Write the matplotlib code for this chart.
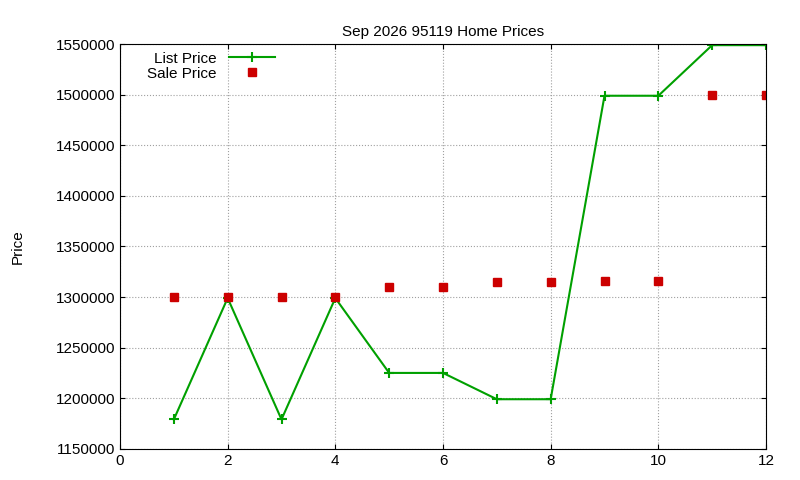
import matplotlib
matplotlib.use("Agg")
import matplotlib.pyplot as plt
from matplotlib.ticker import FuncFormatter

plt.rcParams["font.family"] = ["Liberation Sans", "DejaVu Sans"]

months = [1, 2, 3, 4, 5, 6, 7, 8, 9, 10, 11, 12]
list_price = [1179000, 1299000, 1179000, 1299000, 1225000, 1225000,
              1199000, 1199000, 1499000, 1499000, 1549000, 1549000]
sale_price = [1300000, 1300000, 1300000, 1300000, 1310000, 1310000,
              1315000, 1315000, 1316000, 1316000, 1500000, 1500000]

fig = plt.figure(figsize=(8, 4.8), dpi=100)
ax = fig.add_axes([0.15, 0.065, 0.8075, 0.843])

ax.plot(months, list_price, color="#00a000", lw=1.5, marker="+", ms=7, mew=1.5, label="List Price")
ax.plot(months, sale_price, ls="none", marker="s", ms=6, color="#cc0000", label="Sale Price")

ax.set_xlim(0, 12)
ax.set_ylim(1150000, 1550000)
ax.set_xticks(range(0, 13, 2))
ax.set_yticks(range(1150000, 1550001, 50000))
ax.yaxis.set_major_formatter(FuncFormatter(lambda v, p: f"{int(v)}"))
ax.grid(True, color="#a0a0a0", ls=":", lw=0.8)
ax.tick_params(direction="in", labelsize=11, top=True, right=True)
ax.set_ylabel("Price", fontsize=11, labelpad=22)
ax.set_title("Sep 2026 95119 Home Prices", fontsize=11)
ax.legend(loc="upper left", bbox_to_anchor=(0.03, 1.0), frameon=False, markerfirst=False,
          fontsize=11, handlelength=3, borderaxespad=0.1, labelspacing=0.05)

fig.savefig("out.png")
